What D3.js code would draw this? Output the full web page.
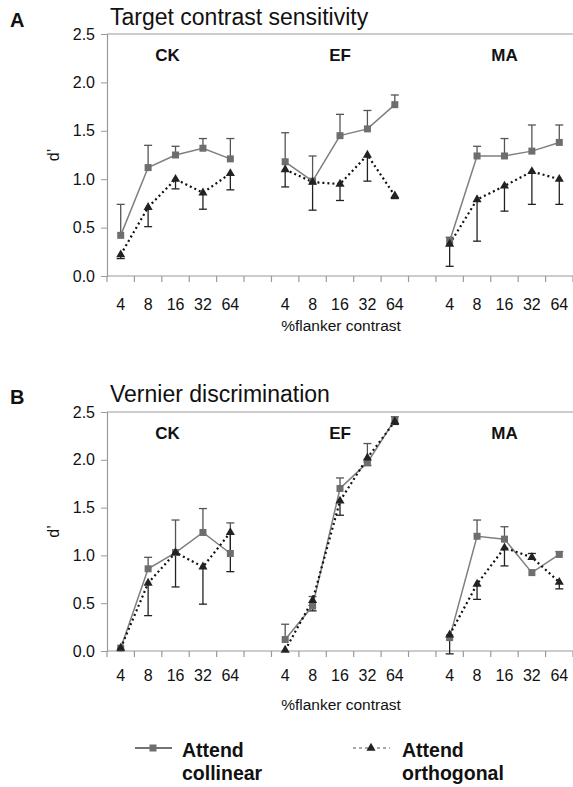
<!DOCTYPE html>
<html><head><meta charset="utf-8">
<script src="https://cdn.jsdelivr.net/npm/d3@7"></script>
<style>body{margin:0;background:#fff}svg{display:block;font-family:"Liberation Sans",Arial,sans-serif}</style>
</head><body>
<script>
const observers = ["CK", "EF", "MA"];
const contrasts = ["4", "8", "16", "32", "64"];
const yTicks = [0, 0.5, 1.0, 1.5, 2.0, 2.5];
const seriesNames = ["Attend collinear", "Attend orthogonal"];

// Panel A: target contrast sensitivity (d'), per observer, per contrast
const aCollinear     = [[0.42,1.12,1.25,1.32,1.21],[1.18,0.98,1.45,1.52,1.77],[0.36,1.24,1.24,1.29,1.38]];
const aCollinearErr  = [[0.74,1.35,1.34,1.42,1.42],[1.48,1.24,1.67,1.71,1.87],[0.40,1.34,1.42,1.56,1.56]];
const aOrthogonal    = [[0.22,0.71,1.00,0.86,1.06],[1.10,0.97,0.95,1.25,0.83],[0.33,0.79,0.93,1.08,1.00]];
const aOrthogonalErr = [[0.18,0.51,0.90,0.69,0.89],[0.92,0.68,0.78,0.98,0.80],[0.10,0.36,0.67,0.74,0.74]];

// Panel B: vernier discrimination (d')
const bCollinear     = [[0.03,0.86,1.03,1.24,1.02],[0.12,0.47,1.70,1.97,2.42],[0.14,1.20,1.17,0.82,1.01]];
const bCollinearErr  = [[0.03,0.98,1.37,1.49,1.34],[0.28,0.57,1.81,2.17,2.45],[0.14,1.37,1.30,0.82,1.04]];
const bOrthogonal    = [[0.03,0.71,1.03,0.88,1.24],[0.01,0.53,1.57,2.02,2.40],[0.17,0.70,1.08,0.98,0.72]];
const bOrthogonalErr = [[0.03,0.37,0.67,0.49,0.83],[0.01,0.42,1.42,1.94,2.37],[-0.03,0.54,0.89,1.02,0.65]];

const W = 573, H = 787;
const svg = d3.select("body").append("svg").attr("width", W).attr("height", H);

const slots = d3.range(17);
const x = d3.scaleBand().domain(slots).range([107, 573]).paddingInner(0).paddingOuter(0);
const slotOf = (g, i) => g * 6 + i;
const cx = (g, i) => x(slotOf(g, i)) + x.bandwidth() / 2;

const axisCol = "#9a9a9a";
const sqCol = "#6e6e6e", sqLine = "#7f7f7f";
const triCol = "#222";

function panel(cfg) {
  const y = d3.scaleLinear().domain([0, 2.5]).range([cfg.y0, cfg.y1]);
  const g = svg.append("g");
  g.append("line").attr("x1", 107).attr("x2", 573).attr("y1", cfg.y1).attr("y2", cfg.y1)
    .attr("stroke", axisCol).attr("stroke-width", 1.2);
  const ya = g.append("g").attr("transform", "translate(107,0)")
    .call(d3.axisLeft(y).tickValues(yTicks).tickFormat(d3.format(".1f")).tickSize(6).tickPadding(6));
  ya.select(".domain").attr("stroke", axisCol).attr("stroke-width", 1.2);
  ya.selectAll(".tick line").attr("stroke", axisCol);
  ya.selectAll("text").attr("font-size", 16).attr("fill", "#111").attr("font-family", "Liberation Sans, Arial");
  g.append("line").attr("x1", 107).attr("x2", 573).attr("y1", cfg.y0).attr("y2", cfg.y0)
    .attr("stroke", axisCol).attr("stroke-width", 1.2);
  g.selectAll(".xt").data(slots.concat([17])).join("line")
    .attr("x1", d => 107 + d * x.bandwidth()).attr("x2", d => 107 + d * x.bandwidth())
    .attr("y1", cfg.y0).attr("y2", cfg.y0 + 6).attr("stroke", axisCol).attr("stroke-width", 1.2);
  observers.forEach((o, gi) => {
    contrasts.forEach((c, i) => {
      g.append("text").attr("x", cx(gi, i)).attr("y", cfg.tickY).attr("text-anchor", "middle")
        .attr("font-size", 16).attr("fill", "#111").text(c);
    });
    g.append("text").attr("x", cx(gi, 2) + (gi === 0 ? -8 : 0)).attr("y", cfg.y1 + 27).attr("text-anchor", "middle")
      .attr("font-size", 17).attr("font-weight", "bold").attr("fill", "#111").text(o);
  });
  g.append("text").attr("x", 341).attr("y", cfg.xlabY).attr("text-anchor", "middle")
    .attr("font-size", 15.5).attr("fill", "#111").text("%flanker contrast");
  g.append("text").attr("transform", `translate(59,${(cfg.y0 + cfg.y1) / 2}) rotate(-90)`)
    .attr("text-anchor", "middle").attr("font-size", 16).attr("fill", "#111").text("d’");
  g.append("text").attr("x", 10).attr("y", cfg.titleY + 1).attr("font-size", 20).attr("font-weight", "bold").attr("fill", "#111").text(cfg.letter);
  g.append("text").attr("x", 110).attr("y", cfg.titleY - 1).attr("font-size", 23).attr("fill", "#111").text(cfg.title);

  const line = d3.line().x(d => d[0]).y(d => y(d[1]));
  observers.forEach((o, gi) => {
    const col = cfg.col[gi], colE = cfg.colE[gi], ort = cfg.ort[gi], ortE = cfg.ortE[gi];
    contrasts.forEach((c, i) => {
      const xx = cx(gi, i);
      if (colE[i] !== col[i]) {
        g.append("line").attr("x1", xx).attr("x2", xx).attr("y1", y(col[i])).attr("y2", y(colE[i])).attr("stroke", "#555").attr("stroke-width", 1.3);
        g.append("line").attr("x1", xx - 4).attr("x2", xx + 4).attr("y1", y(colE[i])).attr("y2", y(colE[i])).attr("stroke", "#555").attr("stroke-width", 1.3);
      }
      if (ortE[i] !== ort[i]) {
        g.append("line").attr("x1", xx).attr("x2", xx).attr("y1", y(ort[i])).attr("y2", y(ortE[i])).attr("stroke", "#222").attr("stroke-width", 1.3);
        g.append("line").attr("x1", xx - 4).attr("x2", xx + 4).attr("y1", y(ortE[i])).attr("y2", y(ortE[i])).attr("stroke", "#222").attr("stroke-width", 1.3);
      }
    });
    g.append("path").attr("d", line(col.map((v, i) => [cx(gi, i), v]))).attr("fill", "none")
      .attr("stroke", sqLine).attr("stroke-width", 1.5);
    g.append("path").attr("d", line(ort.map((v, i) => [cx(gi, i), v]))).attr("fill", "none")
      .attr("stroke", "#111").attr("stroke-width", 2.2).attr("stroke-dasharray", "2,3");
    contrasts.forEach((c, i) => {
      const xx = cx(gi, i);
      g.append("rect").attr("x", xx - 3.5).attr("y", y(col[i]) - 3.5).attr("width", 7).attr("height", 7).attr("fill", sqCol);
      g.append("path").attr("d", d3.symbol(d3.symbolTriangle, 36)()).attr("transform", `translate(${xx},${y(ort[i])})`).attr("fill", triCol);
    });
  });
}

panel({ y0: 276, y1: 34, tickY: 310, xlabY: 331, titleY: 26, letter: "A", title: "Target contrast sensitivity",
  col: aCollinear, colE: aCollinearErr, ort: aOrthogonal, ortE: aOrthogonalErr });
panel({ y0: 651, y1: 412, tickY: 681, xlabY: 710, titleY: 403, letter: "B", title: "Vernier discrimination",
  col: bCollinear, colE: bCollinearErr, ort: bOrthogonal, ortE: bOrthogonalErr });

// legend
const lg = svg.append("g");
lg.append("line").attr("x1", 135).attr("x2", 172).attr("y1", 748).attr("y2", 748).attr("stroke", "#444").attr("stroke-width", 1.5);
lg.append("rect").attr("x", 149.5).attr("y", 744.5).attr("width", 7).attr("height", 7).attr("fill", sqCol);
lg.append("line").attr("x1", 353).attr("x2", 390).attr("y1", 748).attr("y2", 748).attr("stroke", "#555").attr("stroke-width", 1.2).attr("stroke-dasharray", "3,3");
lg.append("path").attr("d", d3.symbol(d3.symbolTriangle, 36)()).attr("transform", "translate(371,748)").attr("fill", triCol);
[[182, seriesNames[0]], [402, seriesNames[1]]].forEach(([lx, name]) => {
  const parts = name.split(" ");
  lg.append("text").attr("x", lx).attr("y", 757).attr("font-size", 19.5).attr("font-weight", "bold").attr("fill", "#111").text(parts[0]);
  lg.append("text").attr("x", lx).attr("y", 780).attr("font-size", 19.5).attr("font-weight", "bold").attr("fill", "#111").text(parts[1]);
});
</script>
</body></html>
